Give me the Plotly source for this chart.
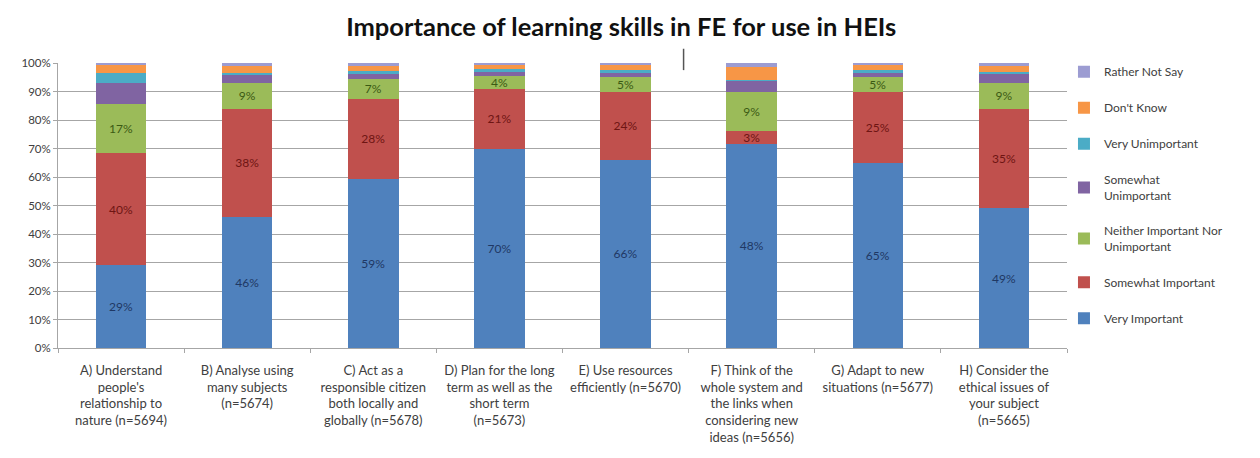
import plotly.graph_objects as go

# Survey items (x categories)
categories = [
    "A) Understand<br>people's<br>relationship to<br>nature (n=5694)",
    "B) Analyse using<br>many subjects<br>(n=5674)",
    "C) Act as a<br>responsible citizen<br>both locally and<br>globally (n=5678)",
    "D) Plan for the long<br>term as well as the<br>short term<br>(n=5673)",
    "E) Use resources<br>efficiently (n=5670)",
    "F) Think of the<br>whole system and<br>the links when<br>considering new<br>ideas (n=5656)",
    "G) Adapt to new<br>situations (n=5677)",
    "H) Consider the<br>ethical issues of<br>your subject<br>(n=5665)",
]

# Response shares (%) per item; each column is normalised to 100% by the chart
very_important = [29, 46, 59.4, 70, 66, 48, 65, 49]
somewhat_important = [39.5, 38, 28, 21, 24, 3, 25, 35]
neither = [17, 9, 7, 4.5, 5, 9, 5, 9]
somewhat_unimportant = [7.4, 2.8, 1.8, 1.4, 1.6, 2.7, 1.8, 3.3]
very_unimportant = [3.6, 0.6, 0.9, 1.1, 1.1, 0.3, 0.7, 0.7]
dont_know = [2.8, 2.6, 1.9, 1.3, 1.5, 3.0, 1.7, 2.0]
rather_not_say = [0.7, 1.0, 1.0, 0.7, 0.8, 0.9, 0.8, 1.0]

series = [
    ("Very Important", very_important, "#4F81BD", "#1F3864", True),
    ("Somewhat Important", somewhat_important, "#C0504D", "#6E1513", True),
    ("Neither Important Nor<br>Unimportant", neither, "#9BBB59", "#3B5A14", True),
    ("Somewhat<br>Unimportant", somewhat_unimportant, "#8064A2", "#000000", False),
    ("Very Unimportant", very_unimportant, "#4BACC6", "#000000", False),
    ("Don't Know", dont_know, "#F79646", "#000000", False),
    ("Rather Not Say", rather_not_say, "#9C9CD2", "#000000", False),
]

FONT = "Lato, 'Open Sans', sans-serif"

fig = go.Figure()
n = len(series)
for i, (name, vals, color, txtcolor, labelled) in enumerate(series):
    fig.add_trace(go.Bar(
        name=name,
        x=categories,
        y=vals,
        marker=dict(color=color, line=dict(width=0)),
        text=[f"{v:.0f}%" for v in vals] if labelled else None,
        textposition="inside" if labelled else "none",
        insidetextanchor="middle",
        textangle=0,
        constraintext="none",
        textfont=dict(family=FONT, size=12, color=txtcolor),
        legendgroup=f"g{i}",
        legendrank=n - i,
        hoverinfo="skip",
    ))

fig.update_layout(
    width=1260,
    height=458,
    margin=dict(l=58, r=193, t=63, b=110),
    paper_bgcolor="white",
    plot_bgcolor="white",
    barmode="stack",
    barnorm="percent",
    bargap=0.6,
    font=dict(family=FONT, color="#404040"),
    title=dict(
        text="<b>Importance of learning skills in FE for use in HEIs</b>",
        x=0.493, xanchor="center", y=0.94, yanchor="middle",
        font=dict(family=FONT, size=25.5, color="#111111"),
    ),
    legend=dict(
        x=0.997, xanchor="left", y=1.02, yanchor="top",
        traceorder="grouped",
        tracegroupgap=17,
        maxheight=440,
        font=dict(family=FONT, size=12, color="#404040"),
        itemwidth=30,
        bgcolor="rgba(0,0,0,0)",
    ),
    showlegend=True,
)

fig.update_yaxes(
    range=[0, 100],
    dtick=10,
    ticksuffix="%",
    showgrid=True,
    gridcolor="#A6A6A6",
    gridwidth=1,
    showline=True,
    linecolor="#A6A6A6",
    ticks="outside",
    ticklen=4,
    tickcolor="#A6A6A6",
    tickfont=dict(family=FONT, size=11.5, color="#404040"),
    zeroline=False,
)
fig.update_xaxes(
    showline=True,
    linecolor="#A6A6A6",
    ticks="outside",
    tickson="boundaries",
    ticklen=4,
    tickcolor="#A6A6A6",
    ticklabelstandoff=10,
    tickfont=dict(family=FONT, size=13, color="#404040"),
)

# short stray divider mark above the plot
fig.add_shape(type="line", xref="paper", yref="paper",
              x0=0.620, x1=0.620, y0=1.05, y1=0.975,
              line=dict(color="#555555", width=1.5))

fig.write_html("out.html")
